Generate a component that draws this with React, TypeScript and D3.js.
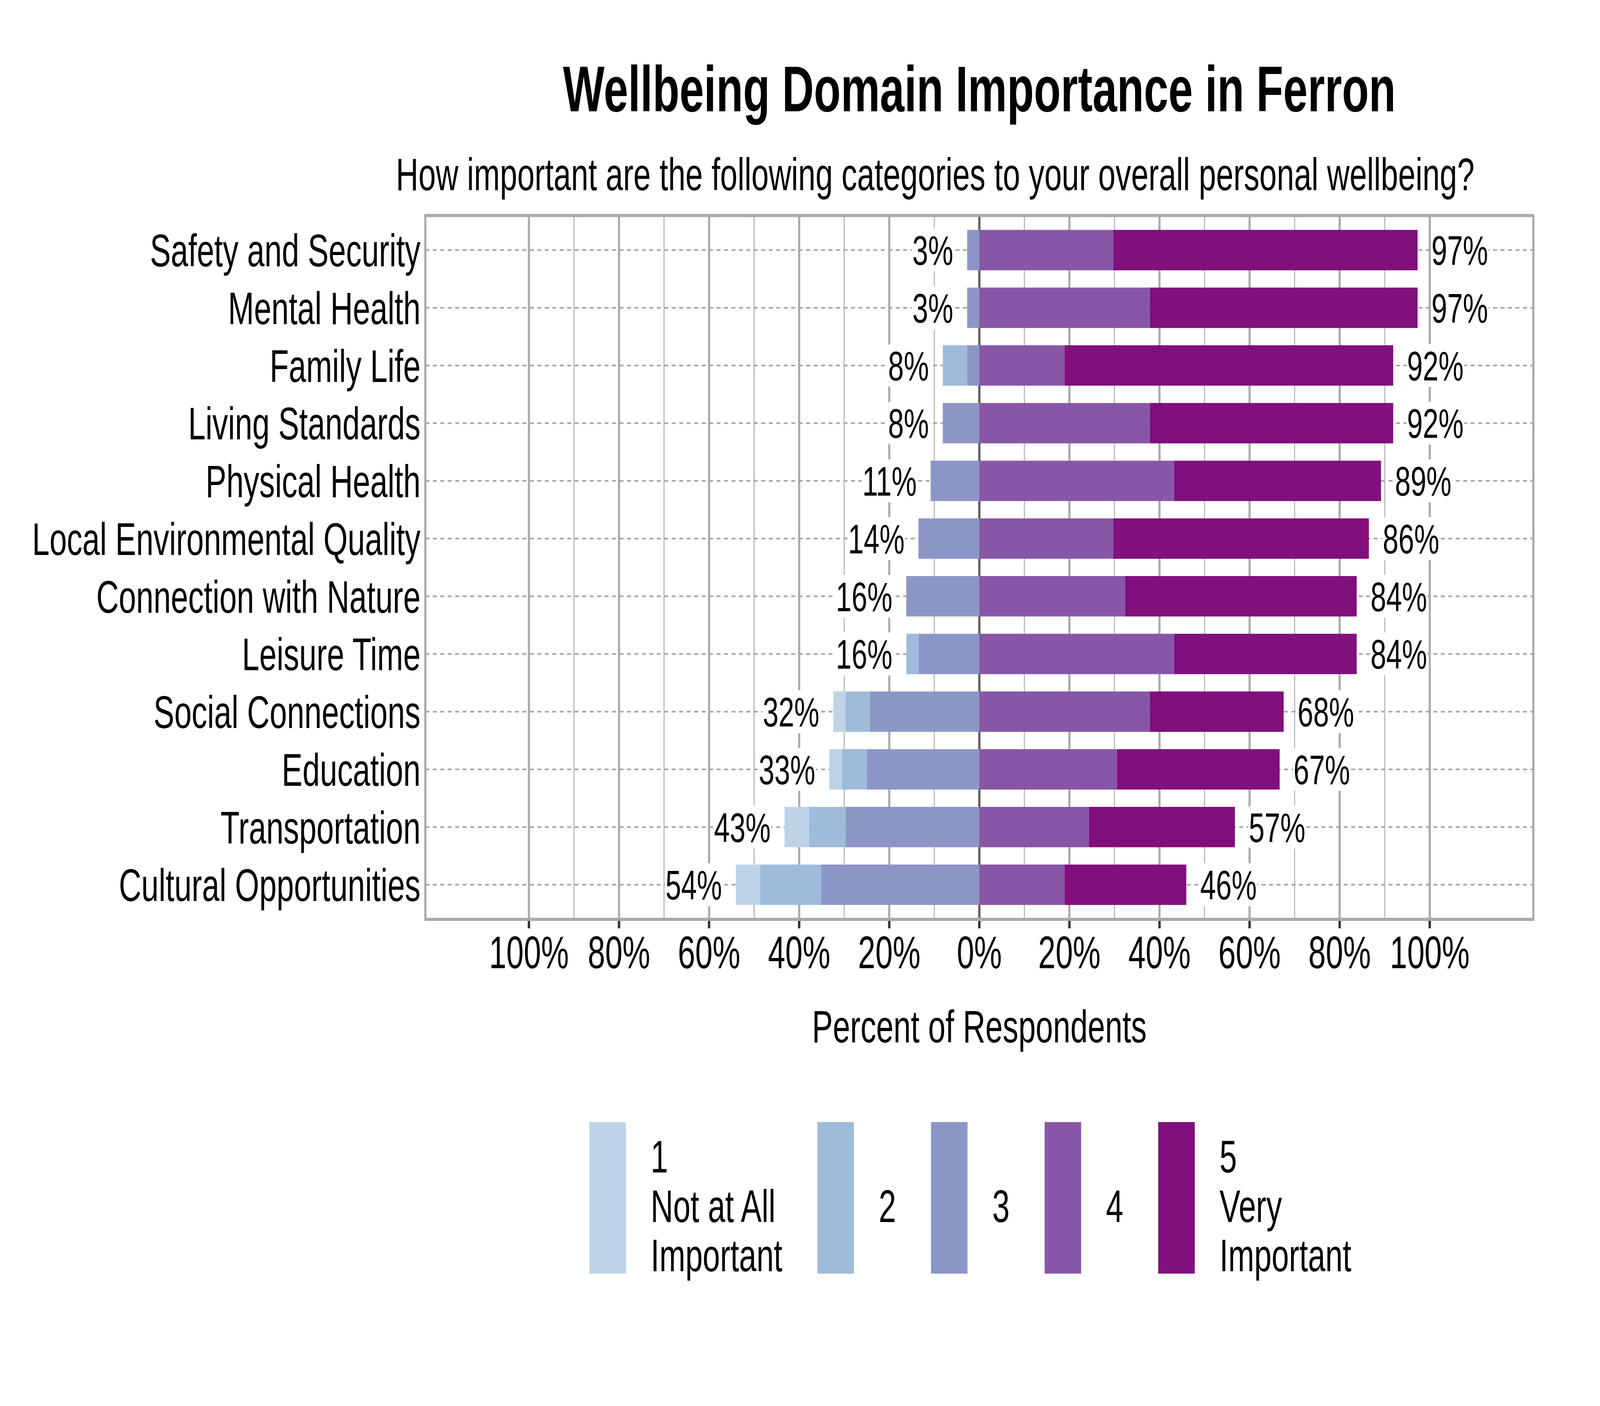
import React, { useEffect, useRef } from 'react';
import * as d3 from 'd3';

const categories = [
  'Safety and Security',
  'Mental Health',
  'Family Life',
  'Living Standards',
  'Physical Health',
  'Local Environmental Quality',
  'Connection with Nature',
  'Leisure Time',
  'Social Connections',
  'Education',
  'Transportation',
  'Cultural Opportunities',
];

// Percent of respondents per importance level (1 = Not at All Important ... 5 = Very Important)
const level1 = [0, 0, 0, 0, 0, 0, 0, 0, 2.70, 2.78, 5.41, 5.41];
const level2 = [0, 0, 5.41, 0, 0, 0, 0, 2.70, 5.41, 5.56, 8.11, 13.51];
const level3 = [2.70, 2.70, 2.70, 8.11, 10.81, 13.51, 16.22, 13.51, 24.32, 25.00, 29.73, 35.14];
const level4 = [29.73, 37.84, 18.92, 37.84, 43.24, 29.73, 32.43, 43.24, 37.84, 30.56, 24.32, 18.92];
const level5 = [67.57, 59.46, 72.97, 54.05, 45.95, 56.76, 51.35, 40.54, 29.73, 36.11, 32.43, 27.03];

const levelColors = ['#bfd3e6', '#9ebcda', '#8c96c6', '#8856a7', '#810f7c'];
const legendLabels = [['1', 'Not at All', 'Important'], ['2'], ['3'], ['4'], ['5', 'Very', 'Important']];
const xTicks = [-100, -80, -60, -40, -20, 0, 20, 40, 60, 80, 100];
const gridValues = d3.range(-100, 101, 10);

const titleText = 'Wellbeing Domain Importance in Ferron';
const subtitleText = 'How important are the following categories to your overall personal wellbeing?';
const xTitleText = 'Percent of Respondents';

const W = 6000;
const H = 3600;
const FONT = '"Liberation Sans", Arial, Helvetica, sans-serif';

export default function App() {
  const ref = useRef<SVGSVGElement>(null);

  useEffect(() => {
    const svg = d3.select(ref.current);
    svg.selectAll('*').remove();

    const left = 1595, right = 5750, top = 551.7, bottom = 2354;
    const x = d3.scaleLinear().domain([-123, 123]).range([left, right]);
    const y = d3.scalePoint<string>().domain(categories).range([top, bottom]).padding(0.6);
    const barH = y.step() * 0.7;

    svg.append('rect').attr('width', W).attr('height', H).attr('fill', '#ffffff');

    // Title & subtitle
    svg.append('text').attr('x', (left + right) / 2).attr('y', 285)
      .attr('text-anchor', 'middle').attr('font-family', FONT).attr('font-weight', 'bold')
      .attr('font-size', 165).attr('fill', '#000').text(titleText);
    svg.append('text').attr('x', 3507).attr('y', 487)
      .attr('text-anchor', 'middle').attr('font-family', FONT)
      .attr('font-size', 117).attr('fill', '#000').text(subtitleText);

    // Vertical gridlines
    const grid = svg.append('g');
    grid.selectAll('line').data(gridValues.filter(d => d !== 0)).join('line')
      .attr('x1', d => x(d)).attr('x2', d => x(d))
      .attr('y1', top).attr('y2', bottom)
      .attr('stroke', d => (d % 20 === 0 ? '#aaaaaa' : '#b4b4b4'))
      .attr('stroke-width', d => (d % 20 === 0 ? 8 : 4));

    // Horizontal dashed lines
    svg.append('g').selectAll('line').data(categories).join('line')
      .attr('x1', left).attr('x2', right)
      .attr('y1', d => y(d)!).attr('y2', d => y(d)!)
      .attr('stroke', '#a3a3a3').attr('stroke-width', 4)
      .attr('stroke-dasharray', '15 13');

    // Zero line
    svg.append('line').attr('x1', x(0)).attr('x2', x(0)).attr('y1', top).attr('y2', bottom)
      .attr('stroke', '#666666').attr('stroke-width', 9);

    // Bars
    type Seg = { cat: string; level: number; x0: number; x1: number };
    const segs: Seg[] = [];
    categories.forEach((cat, i) => {
      const neg = [level3[i], level2[i], level1[i]];
      const negLevels = [2, 1, 0];
      let acc = 0;
      neg.forEach((v, k) => {
        if (v > 0) segs.push({ cat, level: negLevels[k], x0: -acc - v, x1: -acc });
        acc += v;
      });
      let pacc = 0;
      [level4[i], level5[i]].forEach((v, k) => {
        if (v > 0) segs.push({ cat, level: 3 + k, x0: pacc, x1: pacc + v });
        pacc += v;
      });
    });
    svg.append('g').selectAll('rect').data(segs).join('rect')
      .attr('x', d => x(d.x0)).attr('width', d => x(d.x1) - x(d.x0))
      .attr('y', d => y(d.cat)! - barH / 2).attr('height', barH)
      .attr('fill', d => levelColors[d.level]);

    // Value labels with white boxes
    const labelG = svg.append('g');
    const gap = 52;
    categories.forEach((cat, i) => {
      const negSum = level1[i] + level2[i] + level3[i];
      const posSum = level4[i] + level5[i];
      const cy = y(cat)!;
      const items = [
        { text: `${Math.round(negSum)}%`, xx: x(-negSum) - gap, anchor: 'end' },
        { text: `${Math.round(posSum)}%`, xx: x(posSum) + gap, anchor: 'start' },
      ];
      items.forEach(it => {
        const gg = labelG.append('g');
        const t = gg.append('text').attr('x', it.xx).attr('y', cy + 0.716 * 106 / 2)
          .attr('text-anchor', it.anchor).attr('font-family', FONT)
          .attr('font-size', 106).attr('fill', '#000').text(it.text);
        const w = (t.node() as SVGTextElement).getComputedTextLength();
        const x0 = it.anchor === 'end' ? it.xx - w : it.xx;
        gg.insert('rect', 'text').attr('x', x0 - 2).attr('width', w + 4)
          .attr('y', cy - 55).attr('height', 110).attr('rx', 10).attr('fill', '#ffffff');
      });
    });

    // Frame
    svg.append('rect').attr('x', left).attr('y', top).attr('width', right - left).attr('height', bottom - top)
      .attr('fill', 'none').attr('stroke', '#aaaaaa').attr('stroke-width', 8).attr('stroke-linejoin', 'round');

    // Category labels
    svg.append('g').selectAll('text').data(categories).join('text')
      .attr('x', 1577).attr('y', d => y(d)! + 0.716 * 117 / 2)
      .attr('text-anchor', 'end').attr('font-family', FONT).attr('font-size', 117)
      .attr('fill', '#000').text(d => d);

    // X ticks & labels
    const tg = svg.append('g');
    tg.selectAll('line').data(xTicks).join('line')
      .attr('x1', d => x(d)).attr('x2', d => x(d))
      .attr('y1', bottom + 4).attr('y2', bottom + 23)
      .attr('stroke', '#333333').attr('stroke-width', 9);
    tg.selectAll('text').data(xTicks).join('text')
      .attr('x', d => x(d)).attr('y', 2479)
      .attr('text-anchor', 'middle').attr('font-family', FONT).attr('font-size', 117)
      .attr('fill', '#000').text(d => `${Math.abs(d)}%`);

    svg.append('text').attr('x', x(0)).attr('y', 2669)
      .attr('text-anchor', 'middle').attr('font-family', FONT).attr('font-size', 117)
      .attr('fill', '#000').text(xTitleText);

    // Legend
    const lg = svg.append('g');
    const keyTop = 2873, keyBottom = 3261, keyW = 137;
    const lineYs = [3002, 3129, 3255];
    let kx = 2210;
    legendLabels.forEach((lines, i) => {
      lg.append('rect').attr('x', kx).attr('y', keyTop).attr('width', keyW)
        .attr('height', keyBottom - keyTop).attr('fill', levelColors[i]);
      const tx = kx + 230;
      let maxW = 0;
      lines.forEach((ln, j) => {
        const yy = lines.length === 1 ? lineYs[1] : lineYs[j];
        const t = lg.append('text').attr('x', tx).attr('y', yy)
          .attr('font-family', FONT).attr('font-size', 117).attr('fill', '#000').text(ln);
        maxW = Math.max(maxW, (t.node() as SVGTextElement).getComputedTextLength());
      });
      kx = tx + maxW + 131;
    });
  }, []);

  return (
    <svg
      ref={ref}
      viewBox={`0 0 ${W} ${H}`}
      preserveAspectRatio="none"
      style={{ position: 'absolute', left: 0, top: 0, width: '100vw', height: '100vh', display: 'block' }}
    />
  );
}
